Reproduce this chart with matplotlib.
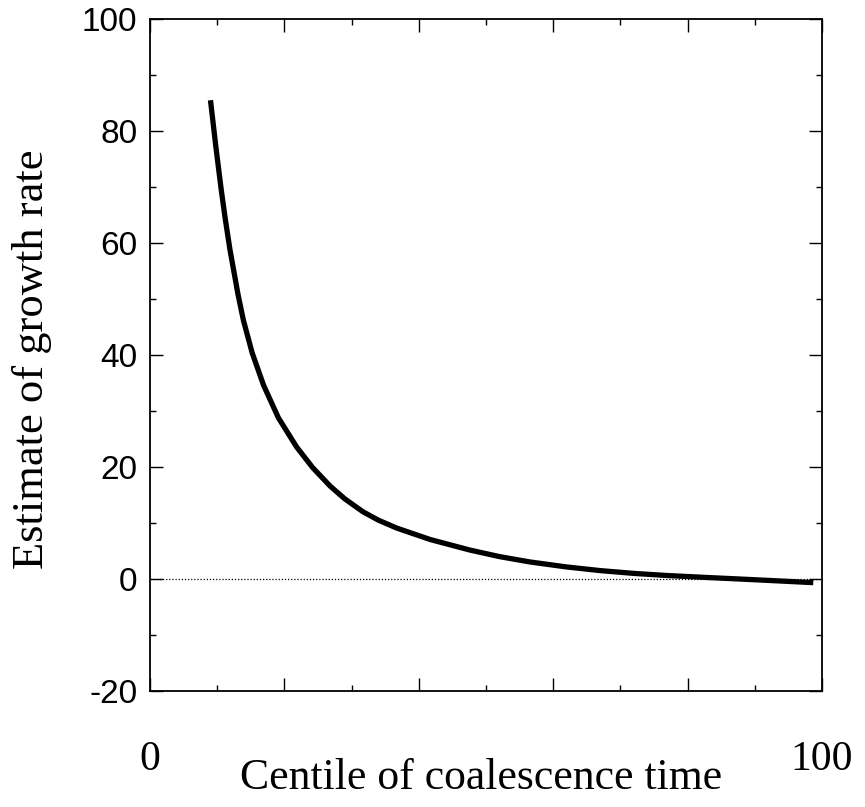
import numpy as np
import matplotlib.pyplot as plt
from matplotlib.ticker import MultipleLocator

# Дані
centile = [9.0, 9.8, 10.6, 11.2, 11.9, 13.1, 13.9, 15.2, 16.9, 19.1,
           21.8, 24.2, 26.8, 29.0, 31.7, 34.0, 36.7, 41.7, 47.5, 52.0,
           56.5, 62.0, 67.0, 72.0, 77.0, 82.0, 87.0, 92.0, 98.7]
growth = [85.5, 77.2, 69.5, 64.3, 58.8, 50.8, 46.2, 40.4, 34.6, 28.8,
          23.6, 19.9, 16.6, 14.3, 12.0, 10.5, 9.1, 7.05, 5.2, 4.0,
          3.05, 2.15, 1.5, 1.0, 0.62, 0.32, 0.04, -0.25, -0.65]

xtick_pos = [0, 20, 40, 60, 80, 100]
xtick_labels = ["0", "", "", "", "", "100"]
ytick_pos = [-20, 0, 20, 40, 60, 80, 100]

serif = "Liberation Serif"
sans = "Liberation Sans"

fig = plt.figure(figsize=(8.65, 8.07), dpi=100)
ax = fig.add_axes([150 / 865, 116 / 807, 672 / 865, 672 / 807])

# нульова лінія
ax.plot([0, 100], [0, 0], color="black", linestyle=(0, (1, 1.5)), linewidth=0.9)
# крива
ax.plot(centile, growth, color="black", linewidth=3.8,
        solid_capstyle="butt", solid_joinstyle="round")

ax.set_xlim(0, 100)
ax.set_ylim(-20, 100)

ax.set_xticks(xtick_pos)
ax.set_xticklabels(xtick_labels, fontfamily=serif, fontsize=30)
ax.xaxis.set_minor_locator(MultipleLocator(10))
ax.set_yticks(ytick_pos)
ax.set_yticklabels([str(v) for v in ytick_pos], fontfamily=sans, fontsize=24)
ax.yaxis.set_minor_locator(MultipleLocator(10))

ax.tick_params(which="both", direction="in", top=True, right=True, width=1.0)
ax.tick_params(which="major", length=9.5)
ax.tick_params(which="minor", length=4)
ax.tick_params(axis="x", which="major", pad=36)
ax.tick_params(axis="y", which="major", pad=9)
for s in ax.spines.values():
    s.set_linewidth(1.3)

ax.set_xlabel("Centile of coalescence time", fontfamily=serif, fontsize=31.5)
ax.xaxis.set_label_coords(0.493, -0.099)
ax.xaxis.label.set_va("top")

ax.set_ylabel("Estimate of growth rate", fontfamily=serif, fontsize=32)
ax.yaxis.set_label_coords(-0.176, 0.493)
ax.yaxis.label.set_va("center")

fig.savefig("out.png", dpi=100)
